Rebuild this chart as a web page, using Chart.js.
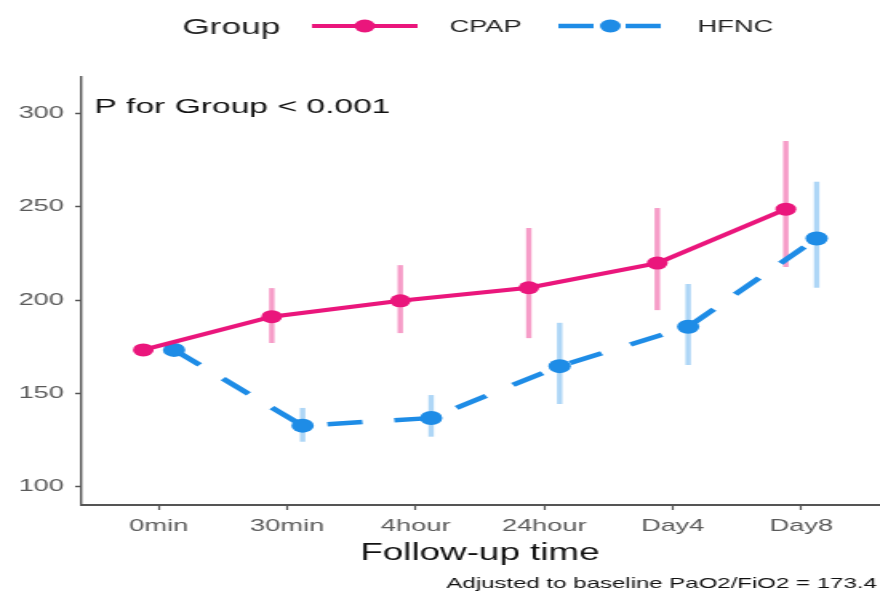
<!DOCTYPE html>
<html>
<head>
<meta charset="utf-8">
<script src="https://cdn.jsdelivr.net/npm/chart.js@4.4.0/dist/chart.umd.min.js"></script>
<style>
  html, body { margin: 0; padding: 0; background: #fff; overflow: hidden; }
  /* the original figure is stretched sideways, so draw narrow and widen it */
  #wrap { width: 550px; height: 594px; transform: scaleX(1.6); transform-origin: 0 0; }
</style>
</head>
<body>
<div id="wrap"><canvas id="graphCanvas" width="550" height="594"></canvas></div>
<script>
// Données
const timeLabels = ['0min', '30min', '4hour', '24hour', 'Day4', 'Day8'];
const cpapMean = [173.3, 191.1, 199.6, 206.6, 219.8, 248.7];
const cpapLow  = [173.3, 177.0, 182.3, 179.6, 194.6, 217.7];
const cpapHigh = [173.3, 206.4, 218.7, 238.6, 249.3, 285.2];
const hfncMean = [173.3, 132.7, 136.8, 164.6, 185.7, 233.0];
const hfncLow  = [173.3, 124.1, 126.8, 144.3, 165.2, 206.6];
const hfncHigh = [173.3, 142.2, 149.1, 187.8, 208.6, 263.4];
const yTicks = [100, 150, 200, 250, 300];

const pink = '#EA167C';
const blue = '#1E8CE6';
const dodge = 0.12;
const font = 'Liberation Sans, Arial, sans-serif';

function toPoints(values, shift) {
    return values.map((v, i) => ({x: i + shift, y: v}));
}

// Barres d'erreur dessinées avec les échelles du graphique
const errorBars = {
    id: 'errorBars',
    beforeDatasetsDraw(chart) {
        const {ctx, scales: {x, y}} = chart;
        chart.data.datasets.forEach(ds => {
            ctx.save();
            ctx.strokeStyle = ds.errColor;
            ctx.lineWidth = 3.4;
            ds.errLow.forEach((lo, i) => {
                const hi = ds.errHigh[i];
                if (hi === lo) return;
                const px = x.getPixelForValue(i + ds.shift);
                ctx.beginPath();
                ctx.moveTo(px, y.getPixelForValue(lo));
                ctx.lineTo(px, y.getPixelForValue(hi));
                ctx.stroke();
            });
            ctx.restore();
        });
    }
};

// Légende, texte P et note en bas
const extras = {
    id: 'extras',
    afterDraw(chart) {
        const ctx = chart.ctx;
        ctx.save();
        ctx.textBaseline = 'middle';
        ctx.fillStyle = '#222';
        ctx.font = '22px ' + font;
        ctx.fillText('Group', 114, 28);

        const items = [
            {ds: chart.data.datasets[0], x0: 195, x1: 261, tx: 281},
            {ds: chart.data.datasets[1], x0: 349, x1: 414, tx: 436}
        ];
        items.forEach(it => {
            ctx.strokeStyle = it.ds.borderColor;
            ctx.lineWidth = it.ds.borderWidth;
            ctx.setLineDash(it.ds.borderDash || []);
            ctx.beginPath();
            ctx.moveTo(it.x0, 26);
            ctx.lineTo(it.x1, 26);
            ctx.stroke();
            ctx.setLineDash([]);
            ctx.fillStyle = it.ds.borderColor;
            ctx.beginPath();
            ctx.arc((it.x0 + it.x1) / 2, 26, 6.5, 0, Math.PI * 2);
            ctx.fill();
            ctx.fillStyle = '#222';
            ctx.font = '17px ' + font;
            ctx.fillText(it.ds.label, it.tx, 27.5);
        });

        ctx.textBaseline = 'alphabetic';
        ctx.font = '21px ' + font;
        ctx.fillStyle = '#111';
        ctx.fillText('P for Group < 0.001', 59, 113);

        ctx.font = '15px ' + font;
        ctx.textAlign = 'right';
        ctx.fillText('Adjusted to baseline PaO2/FiO2 = 173.4', 548, 588);
        ctx.restore();
    }
};

const ctx = document.getElementById('graphCanvas').getContext('2d');
const chart = new Chart(ctx, {
    type: 'line',
    data: {
        datasets: [{
            label: 'CPAP',
            data: toPoints(cpapMean, -dodge),
            shift: -dodge,
            errLow: cpapLow,
            errHigh: cpapHigh,
            errColor: 'rgba(234,22,124,0.42)',
            borderColor: pink,
            backgroundColor: pink,
            borderWidth: 4,
            pointRadius: 6.5,
            pointBorderWidth: 0,
            pointHoverRadius: 6.5
        }, {
            label: 'HFNC',
            data: toPoints(hfncMean, dodge),
            shift: dodge,
            errLow: hfncLow,
            errHigh: hfncHigh,
            errColor: 'rgba(30,140,230,0.36)',
            borderColor: blue,
            backgroundColor: blue,
            borderWidth: 4.5,
            borderDash: [22, 20],
            pointRadius: 7,
            pointBorderWidth: 0,
            pointHoverRadius: 7
        }]
    },
    options: {
        responsive: false,
        animation: false,
        layout: {autoPadding: false, padding: {top: 77, right: 1, left: 0, bottom: 0}},
        plugins: {legend: {display: false}, tooltip: {enabled: false}},
        scales: {
            x: {
                type: 'linear',
                min: -0.6,
                max: 5.6,
                afterBuildTicks: s => { s.ticks = timeLabels.map((_, i) => ({value: i})); },
                afterFit: s => { s.height = 89; s.paddingLeft = 0; s.paddingRight = 0; },
                ticks: {
                    callback: v => timeLabels[v],
                    color: '#5a5a5a',
                    font: {family: font, size: 17},
                    padding: 6,
                    maxRotation: 0,
                    autoSkip: false
                },
                grid: {drawOnChartArea: false, drawTicks: true, tickLength: 5, tickColor: '#555', tickWidth: 1.2},
                border: {display: true, color: '#555', width: 2},
                title: {
                    display: true,
                    text: 'Follow-up time',
                    color: '#111',
                    font: {family: font, size: 23},
                    padding: {top: 0, bottom: 27}
                }
            },
            y: {
                min: 90.2,
                max: 319.5,
                afterBuildTicks: s => { s.ticks = yTicks.map(v => ({value: v})); },
                afterFit: s => { s.width = 51; s.paddingTop = 0; s.paddingBottom = 0; },
                ticks: {
                    color: '#5a5a5a',
                    font: {family: font, size: 17},
                    padding: 7
                },
                grid: {drawOnChartArea: false, drawTicks: true, tickLength: 4, tickColor: '#555', tickWidth: 1.5},
                border: {display: true, color: '#555', width: 1.4}
            }
        }
    },
    plugins: [errorBars, extras]
});
</script>
</body>
</html>
